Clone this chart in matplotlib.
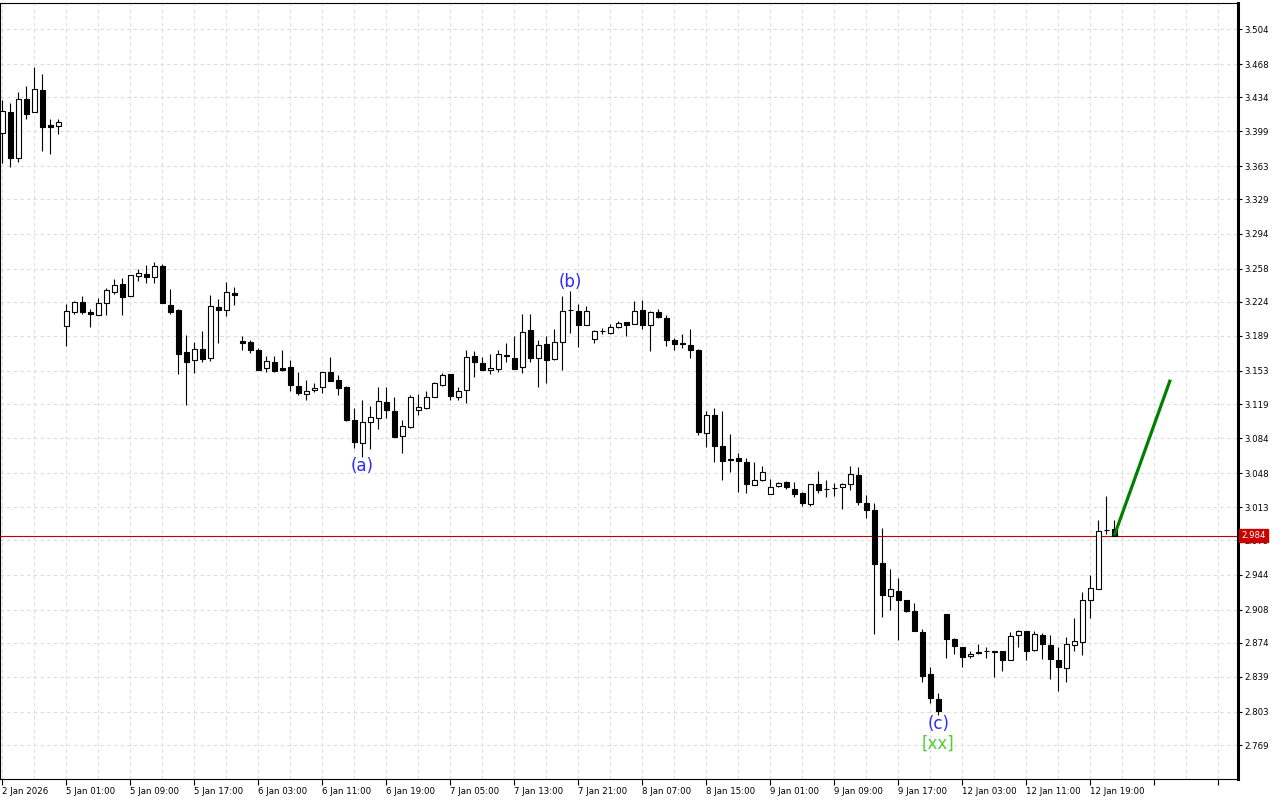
import matplotlib
matplotlib.use("Agg")
import matplotlib.pyplot as plt
from matplotlib.patches import Rectangle
from matplotlib.transforms import blended_transform_factory
import numpy as np

# ---------------- data (hourly OHLC) ----------------
opens = [3.397, 3.419, 3.372, 3.432, 3.419, 3.441, 3.405, 3.404,
         3.199, 3.214, 3.224, 3.213, 3.210, 3.223, 3.234, 3.242, 3.230, 3.250,
         3.253, 3.249, 3.261, 3.221, 3.216, 3.172, 3.164, 3.176, 3.166, 3.219,
         3.216, 3.233, 3.184, 3.183, 3.174, 3.156, 3.162, 3.156, 3.157, 3.138,
         3.129, 3.133, 3.136, 3.152, 3.144, 3.136, 3.103, 3.079, 3.101, 3.105,
         3.121, 3.112, 3.086, 3.095, 3.113, 3.115, 3.126, 3.139, 3.150, 3.126,
         3.133, 3.168, 3.161, 3.154, 3.155, 3.169, 3.166, 3.157, 3.195, 3.166,
         3.181, 3.165, 3.183, 3.216, 3.215, 3.200, 3.186, 3.194, 3.192, 3.198,
         3.203, 3.201, 3.216, 3.200, 3.213, 3.207, 3.185, 3.182, 3.180, 3.174,
         3.089, 3.108, 3.076, 3.063, 3.064, 3.060, 3.036, 3.041, 3.027, 3.035,
         3.039, 3.032, 3.028, 3.016, 3.037, 3.032, 3.033, 3.034, 3.037, 3.046,
         3.017, 3.010, 2.956, 2.922, 2.927, 2.918, 2.907, 2.885, 2.842, 2.816,
         2.903, 2.878, 2.870, 2.860, 2.864, 2.865, 2.865, 2.865, 2.856, 2.882,
         2.886, 2.867, 2.882, 2.872, 2.856, 2.848, 2.872, 2.875, 2.918, 2.929,
         2.990, 2.991]
highs = [3.431, 3.428, 3.439, 3.446, 3.465, 3.458, 3.412, 3.412,
         3.222, 3.225, 3.230, 3.217, 3.228, 3.238, 3.247, 3.248, 3.251, 3.258,
         3.262, 3.265, 3.263, 3.237, 3.217, 3.190, 3.183, 3.194, 3.231, 3.227,
         3.244, 3.239, 3.189, 3.185, 3.177, 3.168, 3.168, 3.174, 3.164, 3.152,
         3.144, 3.141, 3.152, 3.167, 3.149, 3.138, 3.115, 3.123, 3.117, 3.137,
         3.136, 3.126, 3.103, 3.128, 3.129, 3.132, 3.142, 3.151, 3.150, 3.136,
         3.175, 3.173, 3.167, 3.170, 3.174, 3.182, 3.189, 3.211, 3.211, 3.185,
         3.189, 3.196, 3.230, 3.235, 3.222, 3.220, 3.195, 3.197, 3.201, 3.204,
         3.203, 3.225, 3.226, 3.215, 3.217, 3.210, 3.187, 3.191, 3.196, 3.176,
         3.112, 3.115, 3.112, 3.088, 3.069, 3.064, 3.060, 3.055, 3.042, 3.039,
         3.040, 3.039, 3.029, 3.037, 3.050, 3.041, 3.038, 3.038, 3.055, 3.054,
         3.026, 3.017, 2.992, 2.950, 2.940, 2.918, 2.915, 2.888, 2.849, 2.822,
         2.903, 2.879, 2.870, 2.865, 2.873, 2.870, 2.866, 2.866, 2.885, 2.887,
         2.886, 2.886, 2.884, 2.882, 2.870, 2.880, 2.899, 2.926, 2.944, 3.000,
         3.025, 3.000]
lows = [3.366, 3.362, 3.367, 3.412, 3.419, 3.379, 3.376, 3.396,
        3.179, 3.211, 3.211, 3.198, 3.210, 3.210, 3.232, 3.210, 3.230, 3.245,
        3.243, 3.243, 3.223, 3.211, 3.150, 3.118, 3.151, 3.162, 3.163, 3.182,
        3.209, 3.221, 3.174, 3.171, 3.154, 3.152, 3.152, 3.153, 3.132, 3.128,
        3.123, 3.131, 3.130, 3.143, 3.128, 3.102, 3.074, 3.065, 3.073, 3.093,
        3.105, 3.085, 3.069, 3.094, 3.108, 3.114, 3.126, 3.138, 3.123, 3.123,
        3.120, 3.147, 3.154, 3.150, 3.152, 3.162, 3.155, 3.151, 3.162, 3.136,
        3.141, 3.164, 3.154, 3.192, 3.178, 3.200, 3.182, 3.191, 3.191, 3.197,
        3.189, 3.201, 3.196, 3.173, 3.207, 3.179, 3.175, 3.177, 3.166, 3.087,
        3.075, 3.060, 3.041, 3.049, 3.029, 3.028, 3.036, 3.040, 3.027, 3.034,
        3.032, 3.024, 3.014, 3.014, 3.028, 3.024, 3.025, 3.011, 3.031, 3.015,
        3.002, 2.883, 2.900, 2.908, 2.877, 2.906, 2.886, 2.834, 2.812, 2.800,
        2.858, 2.862, 2.849, 2.858, 2.862, 2.858, 2.839, 2.845, 2.856, 2.870,
        2.856, 2.866, 2.857, 2.837, 2.824, 2.834, 2.866, 2.861, 2.899, 2.929,
        2.986, 2.984]
closes = [3.420, 3.372, 3.432, 3.417, 3.442, 3.403, 3.403, 3.409,
          3.215, 3.224, 3.214, 3.211, 3.223, 3.236, 3.241, 3.229, 3.251, 3.254,
          3.249, 3.261, 3.223, 3.214, 3.170, 3.162, 3.176, 3.165, 3.220, 3.216,
          3.234, 3.231, 3.182, 3.175, 3.154, 3.163, 3.153, 3.154, 3.139, 3.130,
          3.132, 3.135, 3.152, 3.143, 3.135, 3.103, 3.080, 3.101, 3.106, 3.122,
          3.113, 3.085, 3.096, 3.126, 3.116, 3.126, 3.141, 3.149, 3.127, 3.132,
          3.167, 3.162, 3.154, 3.156, 3.170, 3.168, 3.155, 3.193, 3.166, 3.180,
          3.164, 3.183, 3.215, 3.216, 3.200, 3.215, 3.194, 3.194, 3.198, 3.202,
          3.200, 3.215, 3.200, 3.213, 3.208, 3.185, 3.181, 3.181, 3.174, 3.090,
          3.108, 3.076, 3.061, 3.062, 3.061, 3.037, 3.041, 3.049, 3.034, 3.038,
          3.034, 3.027, 3.017, 3.037, 3.031, 3.032, 3.033, 3.037, 3.047, 3.018,
          3.010, 2.955, 2.923, 2.929, 2.918, 2.907, 2.886, 2.840, 2.817, 2.804,
          2.878, 2.871, 2.859, 2.862, 2.863, 2.865, 2.864, 2.856, 2.881, 2.886,
          2.866, 2.883, 2.873, 2.857, 2.849, 2.873, 2.876, 2.918, 2.930, 2.989,
          2.990, 2.984]

time_labels = ["2 Jan 2026", "5 Jan 01:00", "5 Jan 09:00", "5 Jan 17:00",
               "6 Jan 03:00", "6 Jan 11:00", "6 Jan 19:00", "7 Jan 05:00",
               "7 Jan 13:00", "7 Jan 21:00", "8 Jan 07:00", "8 Jan 15:00",
               "9 Jan 01:00", "9 Jan 09:00", "9 Jan 17:00", "12 Jan 03:00",
               "12 Jan 11:00", "12 Jan 19:00", "", ""]
price_labels = ["3.504", "3.468", "3.434", "3.399", "3.363", "3.329", "3.294",
                "3.258", "3.224", "3.189", "3.153", "3.119", "3.084", "3.048",
                "3.013", "2.979", "2.944", "2.908", "2.874", "2.839", "2.803",
                "2.769"]
last_price = 2.984
projection_end_bar = 146
projection_end_price = 3.144
wave_labels = [("(a)", 45, "low"), ("(b)", 71, "high"), ("(c)", 117, "low")]
degree_label = ("[xx]", 117)

# ---------------- figure ----------------
W, H = 1280, 800
fig = plt.figure(figsize=(W / 100, H / 100), dpi=100)
fig.patch.set_facecolor("white")
ax = fig.add_axes([0 / W, 21 / H, 1238 / W, 776 / H])

n = len(opens)
xs = np.arange(n)
ax.set_xlim(-0.29, 154.46)
ax.set_ylim(2.7341, 3.5307)

# wicks
ax.vlines(xs, lows, highs, colors="black", linewidth=0.8, zorder=3)
# bodies
bw = 0.6
for i in range(n):
    o, c = opens[i], closes[i]
    lo, hi = min(o, c), max(o, c)
    h = max(hi - lo, 1e-6)
    fc = "white" if c >= o else "black"
    ax.add_patch(Rectangle((i - bw / 2, lo), bw, h, facecolor=fc,
                           edgecolor="black", linewidth=0.8, zorder=4))

# last price line
ax.axhline(last_price, color="#c00000", linewidth=0.8, zorder=2)

# projection line
ax.plot([n - 1, projection_end_bar], [closes[-1], projection_end_price],
        color="#008000", linewidth=2.3, zorder=5, solid_capstyle="butt")

# wave labels
for txt, idx, kind in wave_labels:
    if kind == "low":
        ax.annotate(txt, xy=(idx, lows[idx]), xytext=(0, -9),
                    textcoords="offset pixels", ha="center", va="center",
                    color="#2b2bff", fontsize=12, zorder=6)
    else:
        ax.annotate(txt, xy=(idx, highs[idx]), xytext=(0, 9),
                    textcoords="offset pixels", ha="center", va="center",
                    color="#2b2bff", fontsize=12, zorder=6)
ax.annotate(degree_label[0], xy=(degree_label[1], lows[degree_label[1]]),
            xytext=(0, -29), textcoords="offset pixels", ha="center",
            va="center", color="#55cc33", fontsize=12, zorder=6)

# ticks
ax.set_xticks(np.arange(0, 8 * len(time_labels), 8))
ax.set_xticklabels(time_labels)
ax.set_xticks(np.arange(0, 156, 4), minor=True)
for lab in ax.get_xticklabels():
    lab.set_horizontalalignment("left")
ax.tick_params(axis="x", which="major", direction="out", length=4,
               width=0.8, labelsize=6.2, pad=1.5, colors="black")
ax.tick_params(axis="x", which="minor", length=0)

yt = [float(s) for s in price_labels]
ax.yaxis.tick_right()
ax.set_yticks(yt)
ax.set_yticklabels(price_labels)
ax.tick_params(axis="y", direction="out", length=3, width=0.8,
               labelsize=6.2, pad=1.5, colors="black")

# grid
grid_kw = dict(color="#dcdcdc", linestyle=(0, (3, 3)), linewidth=0.8)
ax.grid(True, axis="y", which="major", **grid_kw)
ax.grid(True, axis="x", which="both", **grid_kw)
ax.set_axisbelow(True)

for s in ["left", "top", "bottom"]:
    ax.spines[s].set_linewidth(0.8)
    ax.spines[s].set_color("black")
ax.spines["right"].set_linewidth(2.2)
ax.spines["right"].set_color("black")

# price tag on the axis
tr = blended_transform_factory(ax.transAxes, ax.transData)
ax.text(1.0025, last_price, f"{last_price:.3f}", transform=tr, ha="left",
        va="center", fontsize=6.2, color="white", zorder=10, clip_on=False,
        bbox=dict(boxstyle="square,pad=0.25", facecolor="#c80000",
                  edgecolor="#c80000"))

fig.savefig("out.png", dpi=100, facecolor="white")
